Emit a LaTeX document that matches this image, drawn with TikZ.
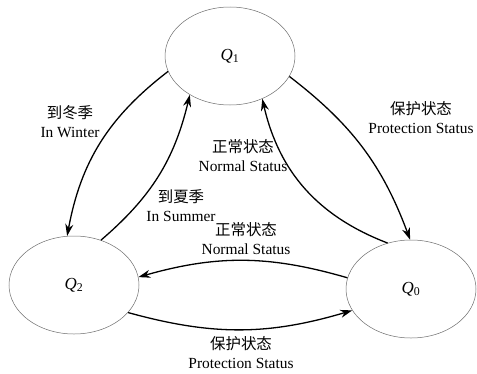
\documentclass[tikz,border=0pt]{standalone}
\usepackage{fontspec}
\setmainfont{Liberation Serif}
\newfontfamily\cjk{Noto Sans CJK SC}
\usetikzlibrary{arrows.meta,shapes.geometric}
\tikzset{
  state/.style={ellipse, draw=gray!85!black, line width=0.5pt, minimum width=130bp, minimum height=98bp, font=\fontsize{17}{20}\selectfont},
  trans/.style={-{Stealth[length=12bp,width=8bp]}, line width=1.3pt, draw=black},
  lab/.style={align=center, font=\fontsize{15.5}{19}\selectfont, inner sep=0pt}
}
\newcommand{\qname}[1]{\textit{Q}\textsubscript{#1}}

\begin{document}
\begin{tikzpicture}[x=1bp,y=1bp]
  \useasboundingbox (0,0) rectangle (477,373);

  \node[state] (Q1) at (230,317) {\qname{1}};
  \node[state] (Q2) at (74,88) {\qname{2}};
  \node[state] (Q0) at (411,84) {\qname{0}};

  \draw[trans] (Q1.194) to[bend right=21] (Q2.98);
  \draw[trans] (Q2.59) to[bend right=18] (Q1.224);
  \draw[trans] (Q1.341) to[bend left=16] (Q0.91);
  \draw[trans] (Q0.117) to[bend left=28] (Q1.307);
  \draw[trans] (Q0.170) to[bend right=16] (Q2.7);
  \draw[trans] (Q2.333) to[bend right=16] (Q0.200);

  \node[lab] (winter) at (70,251) {{\cjk 到冬季}\\In Winter};
  \node[lab] (summer) at (181,167) {{\cjk 到夏季}\\In Summer};
  \node[lab] (protA) at (421,255) {{\cjk 保护状态}\\Protection Status};
  \node[lab] (normA) at (243,217) {{\cjk 正常状态}\\Normal Status};
  \node[lab] (normB) at (246,134) {{\cjk 正常状态}\\Normal Status};
  \node[lab] (protB) at (241,20) {{\cjk 保护状态}\\Protection Status};
\end{tikzpicture}
\end{document}
